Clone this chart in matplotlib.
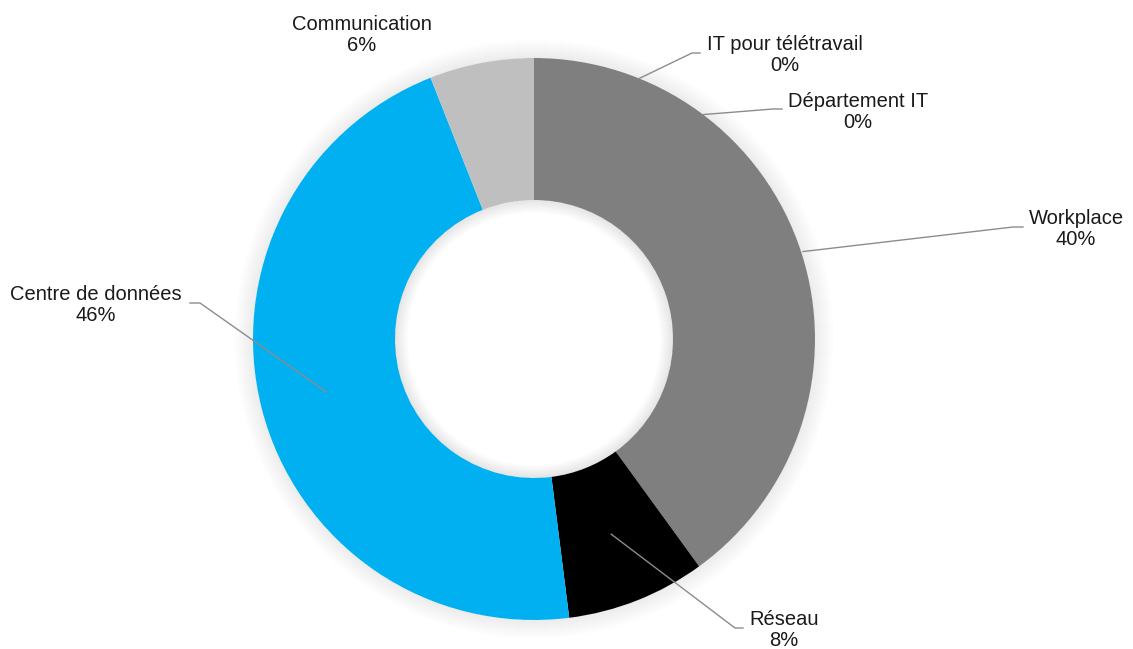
import numpy as np
import matplotlib
matplotlib.use("Agg")
import matplotlib.pyplot as plt
from matplotlib.patches import Wedge

plt.rcParams['font.family'] = ['Liberation Sans', 'DejaVu Sans']

# share of budget per domain (%)
categories = ["IT pour télétravail", "Département IT", "Workplace", "Réseau",
              "Centre de données", "Communication"]
shares = [0, 0, 40, 8, 46, 6]
colors = ["#7f7f7f", "#7f7f7f", "#7f7f7f", "#000000", "#00b0f0", "#bfbfbf"]

W, H = 1133, 649
cx, cy = 534, 339        # donut centre, pixel coords (y down)
R_OUT, R_IN = 281, 139

# label layout: text centre, leader anchor (angle from top clockwise, radius),
# knee and end of the leader line; None = no leader
label_layout = {
    "IT pour télétravail": dict(text=(785, 55), angle=22, r=281, knee=(692, 53), end=(700, 53)),
    "Département IT": dict(text=(858, 112), angle=37, r=281, knee=(773, 109), end=(782, 109)),
    "Workplace": dict(text=(1076, 229), angle=None, r=283, knee=(1013, 227), end=(1023, 227)),
    "Réseau": dict(text=(784, 630), angle=None, r=210, knee=(735, 628), end=(743, 628)),
    "Centre de données": dict(text=(96, 305), angle=None, r=214, knee=(200, 303), end=(190, 303)),
    "Communication": dict(text=(362, 35), angle=None, r=None, knee=None, end=None),
}


def fy(y):
    # pixel row -> data y
    return H - y


fig = plt.figure(figsize=(W / 100, H / 100), dpi=100)
ax = fig.add_axes([0, 0, 1, 1])

centre = (cx, fy(cy))

# soft shadow outside the ring
for k in range(1, 20):
    ax.add_patch(Wedge(centre, R_OUT + k, 0, 360, width=k, facecolor="black",
                       edgecolor="none", alpha=0.005, zorder=0))

wedges, _ = ax.pie(shares, colors=colors, radius=R_OUT, center=centre,
                   startangle=90, counterclock=False,
                   wedgeprops=dict(width=R_OUT - R_IN, edgecolor="none", linewidth=0))

# soft shadow inside the hole
for k in range(1, 14):
    ax.add_patch(Wedge(centre, R_IN, 0, 360, width=k, facecolor="black",
                       edgecolor="none", alpha=0.007, zorder=3))

for name, val, w in zip(categories, shares, wedges):
    lay = label_layout[name]
    tx, ty = lay["text"]
    ax.text(tx, fy(ty), f"{name}\n{val}%", ha="center", va="center",
            multialignment="center", fontsize=14.5, color="#1a1a1a",
            linespacing=1.15, zorder=5)
    if lay["r"] is None:
        continue
    if lay["angle"] is None:
        mid = np.deg2rad((w.theta1 + w.theta2) / 2)
    else:
        mid = np.deg2rad(90 - lay["angle"])
    ax_, ay_ = cx + lay["r"] * np.cos(mid), fy(cy) + lay["r"] * np.sin(mid)
    kx, ky = lay["knee"]
    ex, ey = lay["end"]
    ax.plot([ax_, kx, ex], [ay_, fy(ky), fy(ey)], color="#8c8c8c", lw=1.0,
            solid_joinstyle="miter", zorder=4)

ax.set_xlim(0, W)
ax.set_ylim(0, H)
ax.set_aspect("equal")
ax.axis("off")

fig.savefig("out.png", dpi=100, facecolor="white")
